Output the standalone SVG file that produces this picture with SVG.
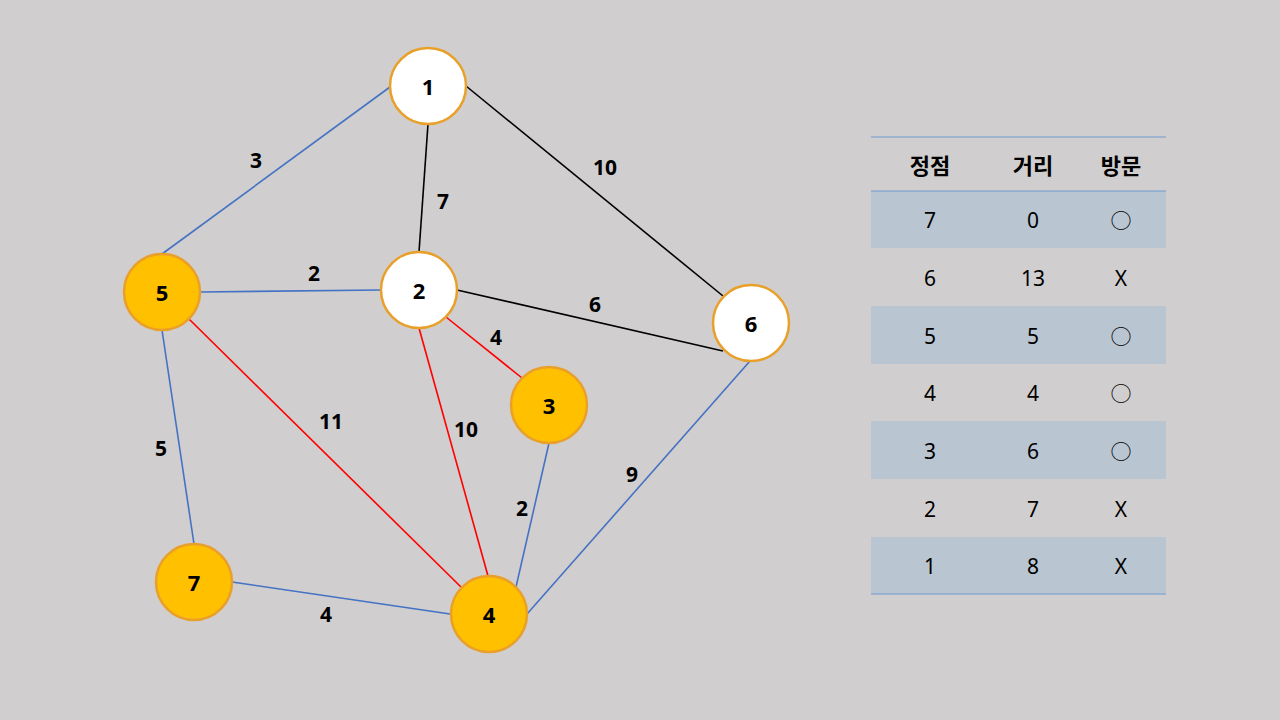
<svg xmlns="http://www.w3.org/2000/svg" width="1280" height="720" viewBox="0 0 1280 720">
<style>
.bl{stroke:#4472c4;stroke-width:1.6;fill:none}
.rd{stroke:#ff0000;stroke-width:1.6;fill:none}
.bk{stroke:#000;stroke-width:1.6;fill:none}
.nw{fill:#ffffff;stroke:#e9a02a;stroke-width:2.5}
.ny{fill:#ffc000;stroke:#e9a02a;stroke-width:2.5}
.nt{font-family:"Noto Sans","Noto Sans CJK KR",sans-serif;font-weight:bold;font-size:22px;fill:#000;text-anchor:middle;dominant-baseline:central}
.el{font-family:"Noto Sans","Noto Sans CJK KR",sans-serif;font-weight:bold;font-size:21px;fill:#000;text-anchor:middle;dominant-baseline:central}
.th{font-family:"Noto Sans CJK KR",sans-serif;font-weight:bold;font-size:22px;fill:#000;text-anchor:middle;dominant-baseline:central}
.td{font-family:"Noto Sans","Noto Sans CJK KR",sans-serif;font-size:21px;fill:#000;text-anchor:middle;dominant-baseline:central}
.sh{fill:#b9c5d1}
.tl{stroke:#6f9bd0;stroke-width:1.2}
</style>
<rect width="1280" height="720" fill="#d0cece"/>
<g id="connectors">
<line class="bl" x1="390" y1="87" x2="162" y2="254"/>
<line class="bk" x1="428" y1="124" x2="419" y2="252"/>
<line class="bk" x1="466" y1="86" x2="723" y2="296"/>
<line class="bl" x1="201" y1="292" x2="381" y2="290"/>
<line class="bk" x1="457" y1="290" x2="723" y2="351"/>
<line class="rd" x1="446" y1="317" x2="522" y2="378"/>
<line class="rd" x1="419" y1="328" x2="488" y2="576"/>
<line class="rd" x1="189" y1="319" x2="461" y2="587"/>
<line class="bl" x1="162" y1="330" x2="194" y2="544"/>
<line class="bl" x1="232" y1="582" x2="450" y2="614"/>
<line class="bl" x1="549" y1="443" x2="516" y2="587"/>
<line class="bl" x1="750" y1="361" x2="527" y2="614"/>
</g>
<g id="edge-labels">
<text class="el" x="256" y="160">3</text>
<text class="el" x="443" y="201">7</text>
<text class="el" x="605" y="167">10</text>
<text class="el" x="314" y="273">2</text>
<text class="el" x="595" y="304">6</text>
<text class="el" x="496" y="337">4</text>
<text class="el" x="331" y="421">11</text>
<text class="el" x="466" y="429">10</text>
<text class="el" x="161" y="448">5</text>
<text class="el" x="522" y="508">2</text>
<text class="el" x="632" y="474">9</text>
<text class="el" x="326" y="614">4</text>
</g>
<g id="node1"><circle class="nw" cx="428" cy="86" r="38"/><text class="nt" x="428" y="86">1</text></g>
<g id="node2"><circle class="nw" cx="419" cy="290" r="38"/><text class="nt" x="419" y="290">2</text></g>
<g id="node3"><circle class="ny" cx="549" cy="405" r="38"/><text class="nt" x="549" y="405">3</text></g>
<g id="node4"><circle class="ny" cx="489" cy="614" r="38"/><text class="nt" x="489" y="614">4</text></g>
<g id="node5"><circle class="ny" cx="162" cy="292" r="38"/><text class="nt" x="162" y="292">5</text></g>
<g id="node6"><circle class="nw" cx="751" cy="323" r="38"/><text class="nt" x="751" y="323">6</text></g>
<g id="node7"><circle class="ny" cx="194" cy="582" r="38"/><text class="nt" x="194" y="582">7</text></g>
<g id="table">
<rect class="sh" x="871" y="191" width="295" height="57"/>
<rect class="sh" x="871" y="306" width="295" height="58"/>
<rect class="sh" x="871" y="421" width="295" height="58"/>
<rect class="sh" x="871" y="537" width="295" height="57"/>
<line class="tl" x1="871" y1="137" x2="1166" y2="137"/>
<line class="tl" x1="871" y1="191" x2="1166" y2="191"/>
<line class="tl" x1="871" y1="594" x2="1166" y2="594"/>
<text class="th" x="930" y="164">정점</text>
<text class="th" x="1033" y="164">거리</text>
<text class="th" x="1121" y="164">방문</text>
<text class="td" x="930" y="220">7</text><text class="td" x="1033" y="220">0</text><text class="td" x="1121" y="220">○</text>
<text class="td" x="930" y="278">6</text><text class="td" x="1033" y="278">13</text><text class="td" x="1121" y="278">X</text>
<text class="td" x="930" y="336">5</text><text class="td" x="1033" y="336">5</text><text class="td" x="1121" y="336">○</text>
<text class="td" x="930" y="393">4</text><text class="td" x="1033" y="393">4</text><text class="td" x="1121" y="393">○</text>
<text class="td" x="930" y="451">3</text><text class="td" x="1033" y="451">6</text><text class="td" x="1121" y="451">○</text>
<text class="td" x="930" y="509">2</text><text class="td" x="1033" y="509">7</text><text class="td" x="1121" y="509">X</text>
<text class="td" x="930" y="566">1</text><text class="td" x="1033" y="566">8</text><text class="td" x="1121" y="566">X</text>
</g>
</svg>
